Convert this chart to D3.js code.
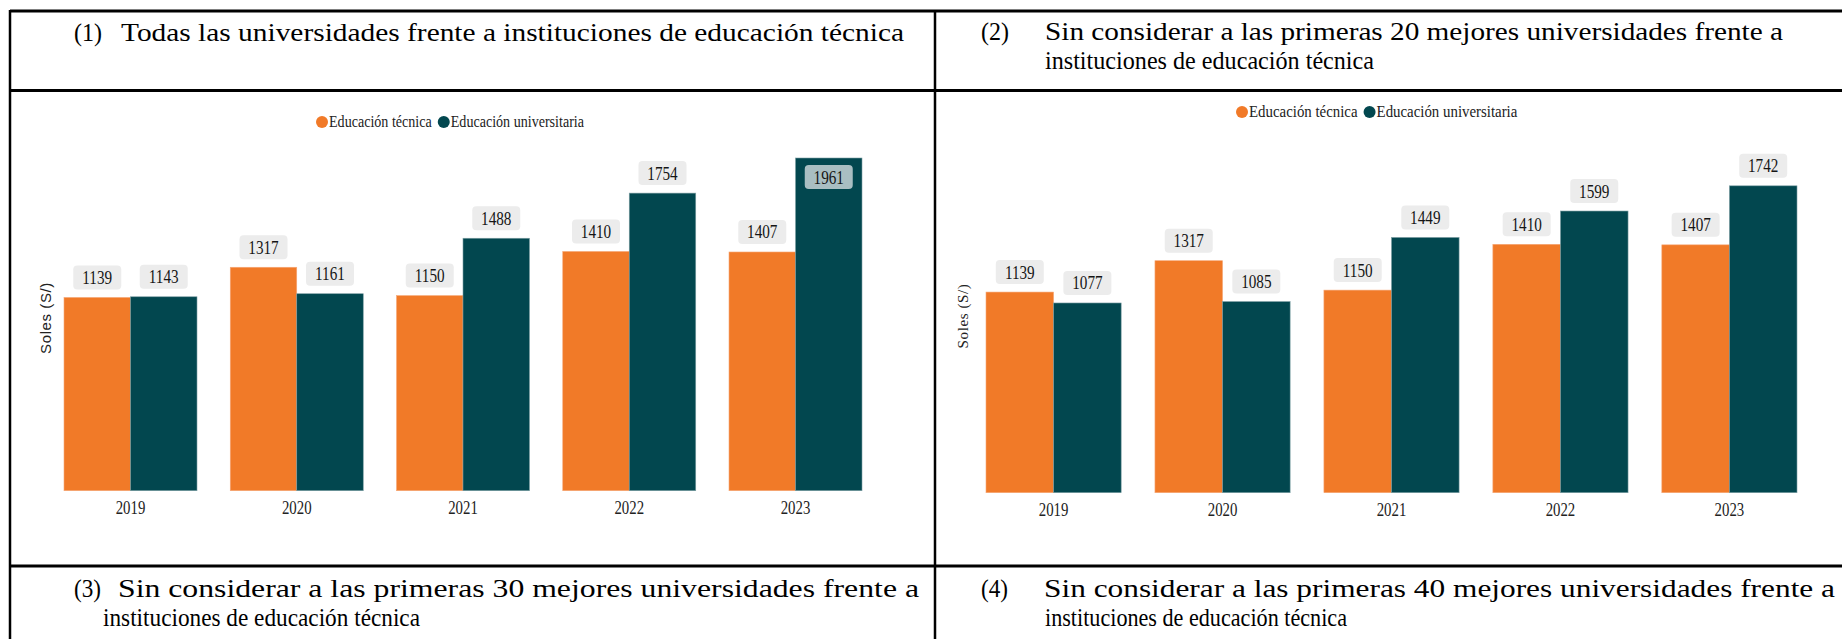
<!DOCTYPE html>
<html>
<head>
<meta charset="utf-8">
<script src="https://cdn.jsdelivr.net/npm/d3@7"></script>
<style>
  body { margin: 0; background: #fff; }
  svg { display: block; }
</style>
</head>
<body>
<svg id="chart" width="1842" height="639"></svg>
<script>
// Data
var years = ["2019", "2020", "2021", "2022", "2023"];
var seriesNames = ["Educación técnica", "Educación universitaria"];
var tecnica1 = [1139, 1317, 1150, 1410, 1407];
var universitaria1 = [1143, 1161, 1488, 1754, 1961];
var tecnica2 = [1139, 1317, 1150, 1410, 1407];
var universitaria2 = [1077, 1085, 1449, 1599, 1742];
var yLabel = "Soles (S/)";
var titleNums = ["(1)", "(2)", "(3)", "(4)"];
var titleLines = [
  ["Todas las universidades frente a instituciones de educación técnica"],
  ["Sin considerar a las primeras 20 mejores universidades frente a", "instituciones de educación técnica"],
  ["Sin considerar a las primeras 30 mejores universidades frente a", "instituciones de educación técnica"],
  ["Sin considerar a las primeras 40 mejores universidades frente a", "instituciones de educación técnica"]
];

var colors = ['#f17a28', '#02474f'];
var serif = "'Liberation Serif', 'Times New Roman', serif";

var svg = d3.select('#chart');

// Table borders
var grid = svg.append('g').attr('class', 'table').style('stroke', '#000');
grid.append('line').attr('x1', 10).attr('x2', 1842).attr('y1', 11).attr('y2', 11).style('stroke-width', 3);
grid.append('line').attr('x1', 10).attr('x2', 1842).attr('y1', 90.5).attr('y2', 90.5).style('stroke-width', 3);
grid.append('line').attr('x1', 10).attr('x2', 1842).attr('y1', 566).attr('y2', 566).style('stroke-width', 3);
grid.append('line').attr('x1', 10).attr('x2', 10).attr('y1', 10).attr('y2', 639).style('stroke-width', 2.5);
grid.append('line').attr('x1', 935).attr('x2', 935).attr('y1', 10).attr('y2', 639).style('stroke-width', 2.5);

// Titles: number + lines squeezed to the measured widths
function add_title(i, x, numW, xLines, y, widths){
  var t = svg.append('g').attr('class', 'title').style('font-family', serif)
      .style('font-size', '26px').style('fill', '#000');
  t.append('text').attr('x', x).attr('y', y).attr('textLength', numW)
      .attr('lengthAdjust', 'spacingAndGlyphs').text(titleNums[i]);
  titleLines[i].forEach(function(line, k){
    t.append('text')
        .attr('x', xLines[k])
        .attr('y', y + k * 29)
        .attr('textLength', widths[k])
        .attr('lengthAdjust', 'spacingAndGlyphs')
        .text(line);
  });
}
add_title(0, 74, 28, [121], 41, [783]);
add_title(1, 981, 28, [1045, 1045], 40, [738, 329]);
add_title(2, 74, 27, [118, 103], 597, [801, 317]);
add_title(3, 981, 27, [1044, 1045], 597, [791, 302]);

// One grouped bar chart
function build_bar_chart(tec, uni, o){
  var g = svg.append('g');
  var x0 = d3.scaleBand().domain(years).range([o.left, o.right]).paddingInner(0.2).paddingOuter(0);
  var x1 = d3.scaleBand().domain(seriesNames).range([0, x0.bandwidth()]);
  var y = d3.scaleLinear().domain([0, o.yMax]).range([o.base, o.top]);

  var rows = years.map(function(yr, i){
    return {year: yr, values: [{key: seriesNames[0], v: tec[i]}, {key: seriesNames[1], v: uni[i]}]};
  });

  var groups = g.selectAll('.year').data(rows).enter().append('g')
      .attr('transform', function(d){ return 'translate(' + x0(d.year) + ',0)'; });

  groups.selectAll('rect.bar').data(function(d){ return d.values; }).enter().append('rect')
      .attr('class', 'bar')
      .attr('x', function(d){ return x1(d.key); })
      .attr('width', x1.bandwidth())
      .attr('y', function(d){ return y(d.v); })
      .attr('height', function(d){ return o.base - y(d.v); })
      .style('fill', function(d, i){ return colors[i]; })
      .style('stroke', function(d, i){ return i == 0 ? '#f6a878' : '#7c9ea3'; })
      .style('stroke-width', 0.6);

  // value labels (box above bar, or inside if it would leave the plot)
  var bw = 48, bh = 24;
  function inside(d){ return y(d.v) - 8 - bh < o.top - 14; }
  var labels = groups.selectAll('g.lbl').data(function(d){ return d.values; }).enter().append('g')
      .attr('class', 'lbl')
      .attr('transform', function(d){
        var by = inside(d) ? y(d.v) + 7 : y(d.v) - 8 - bh;
        return 'translate(' + (x1(d.key) + x1.bandwidth() / 2) + ',' + by + ')';
      });
  labels.append('rect')
      .attr('x', -bw / 2).attr('y', 0).attr('width', bw).attr('height', bh)
      .attr('rx', 4)
      .style('fill', function(d){ return inside(d) ? '#a9bec2' : '#ececec'; });
  labels.append('text')
      .attr('transform', 'translate(0,' + (bh / 2 + 6.5) + ') scale(0.8,1)')
      .attr('text-anchor', 'middle')
      .style('font-family', serif).style('font-size', '19px').style('fill', '#151515')
      .text(function(d){ return d.v; });

  // x axis
  var ax = g.append('g')
      .attr('transform', 'translate(0,' + o.base + ')')
      .call(d3.axisBottom(x0).tickSize(0).tickPadding(10));
  ax.select('.domain').remove();
  ax.selectAll('text')
      .attr('transform', 'scale(0.8,1)')
      .style('font-family', serif).style('font-size', '18.5px').style('fill', '#222');

  // y label
  g.append('text')
      .attr('transform', 'translate(' + o.yLabelX + ',' + o.yLabelY + ') rotate(-90)')
      .attr('text-anchor', 'middle')
      .style('font-family', o.yLabelFont).style('font-size', '15px').style('fill', '#222')
      .style('letter-spacing', '0.6px')
      .text(yLabel);

  // legend
  var leg = g.append('g').attr('transform', 'translate(' + o.legX + ',' + o.legY + ')');
  var cx = 0;
  seriesNames.forEach(function(name, i){
    leg.append('circle').attr('cx', cx).attr('cy', 0).attr('r', 6).style('fill', colors[i]);
    var t = leg.append('text')
        .attr('transform', 'translate(' + (cx + 7) + ',5) scale(' + o.legScale + ',1)')
        .style('font-family', serif).style('font-size', '16px').style('fill', '#222')
        .text(name);
    cx += 7 + t.node().getComputedTextLength() * o.legScale + 12;
  });
}

build_bar_chart(tecnica1, universitaria1, {
  left: 64, right: 862, base: 490.7, top: 158, yMax: 1961,
  yLabelX: 51, yLabelY: 318, yLabelFont: "'Liberation Sans', Arial, sans-serif",
  legX: 322, legY: 122, legScale: 0.88
});
build_bar_chart(tecnica2, universitaria2, {
  left: 986, right: 1797, base: 492.7, top: 158, yMax: 1900,
  yLabelX: 968, yLabelY: 316, yLabelFont: serif,
  legX: 1242, legY: 112, legScale: 0.93
});
</script>
</body>
</html>
